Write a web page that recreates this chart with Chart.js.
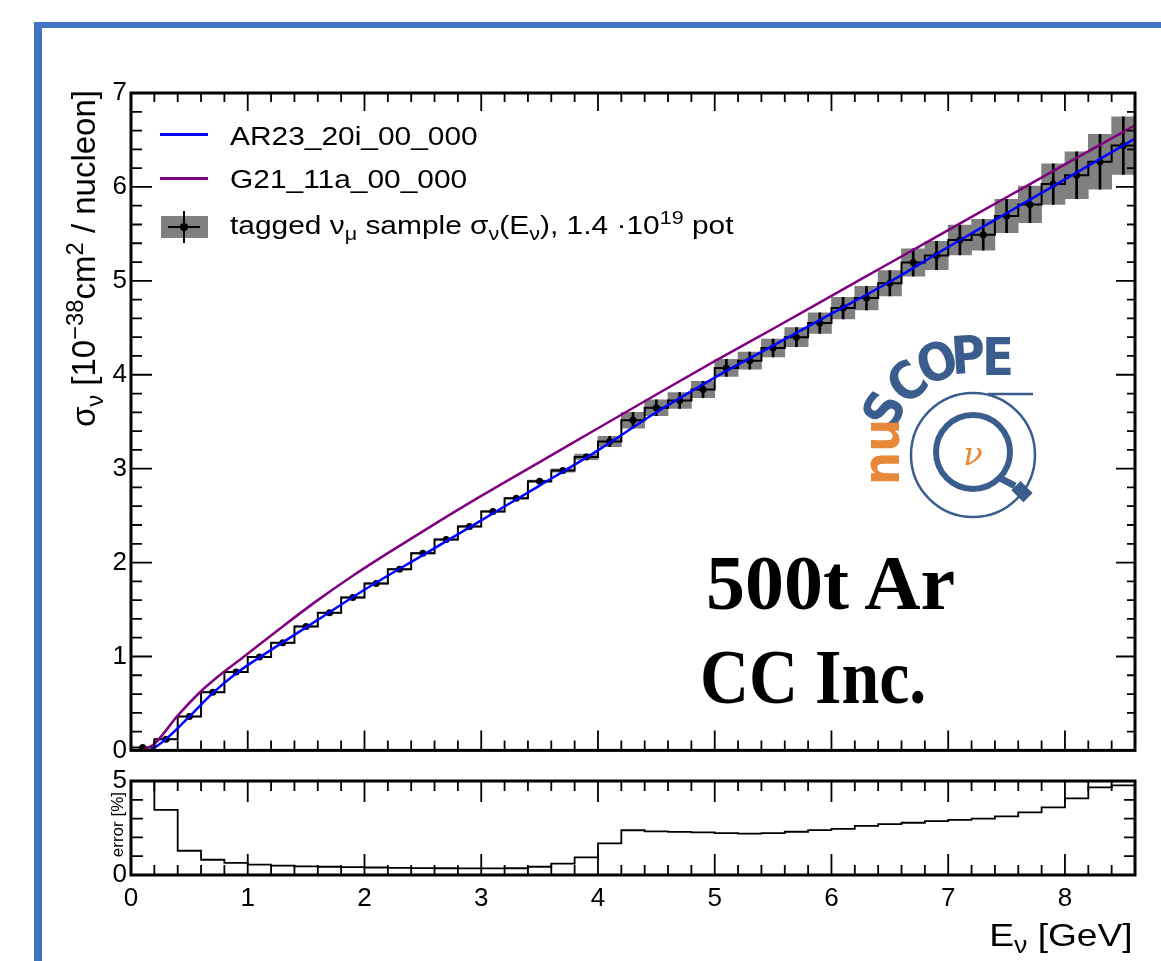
<!DOCTYPE html>
<html lang="en">
<head>
<meta charset="UTF-8">
<title>nuSCOPE 500t Ar CC Inc. cross section</title>
<script src="https://cdn.jsdelivr.net/npm/chart.js"></script>
<style>
  body { margin:0; background:#fff; width:1161px; height:961px; overflow:hidden; position:relative;
         font-family:'Liberation Sans', Arial, sans-serif; }
  .frame { position:absolute; left:34px; top:22px; width:1200px; height:1000px;
           border-left:8px solid #4472c4; border-top:6px solid #4472c4; }
  canvas { position:absolute; left:0; }
  .txt { position:absolute; white-space:nowrap; line-height:1; color:#000; }
  .rot { transform-origin:0 0; transform:rotate(-90deg); text-align:right; }
  .wide { transform-origin:0 0; transform:scaleX(1.15); }
  sub, sup { font-size:72%; line-height:0; }
  .swatch { position:absolute; }
  .big { font-family:'Liberation Serif', 'Times New Roman', serif; font-weight:bold; font-size:78px; transform-origin:0 0; }
</style>
</head>
<body>
<div class="frame"></div>
<canvas id="main" width="1161" height="770" style="top:0"></canvas>
<canvas id="ratio" width="1161" height="201" style="top:760px"></canvas>

<!-- axis titles -->
<div class="txt rot" style="left:67px; top:428px; width:338px; font-size:33px;">σ<sub>ν</sub> [10<sup>−38</sup>cm<sup>2</sup> / nucleon]</div>
<div class="txt rot" style="left:109px; top:862px; width:70px; font-size:17px;">error [%]</div>
<div class="txt" style="right:28px; top:919px; font-size:32px; transform-origin:100% 0; transform:scaleX(1.16);">E<sub>ν</sub> [GeV]</div>

<!-- legend -->
<div class="swatch" style="left:160px; top:133px; width:48px; height:3px; background:#0000ff;"></div>
<div class="swatch" style="left:160px; top:177px; width:48px; height:3px; background:#800080;"></div>
<div class="swatch" style="left:161px; top:216px; width:47px; height:22px; background:#808080;"></div>
<div class="swatch" style="left:168px; top:226px; width:32px; height:2px; background:#000;"></div>
<div class="swatch" style="left:183px; top:211px; width:2px; height:32px; background:#000;"></div>
<div class="swatch" style="left:180px; top:223px; width:8px; height:8px; border-radius:50%; background:#000;"></div>
<div class="txt wide" style="left:230px; top:123px; font-size:26px;">AR23_20i_00_000</div>
<div class="txt wide" style="left:230px; top:166px; font-size:26px;">G21_11a_00_000</div>
<div class="txt wide" style="left:230px; top:212px; font-size:26px;">tagged ν<sub>μ</sub> sample σ<sub>ν</sub>(E<sub>ν</sub>), 1.4 ·10<sup>19</sup> pot</div>

<!-- labels -->
<div class="txt big" style="left:706px; top:544px;">500t Ar</div>
<div class="txt big" style="left:700px; top:638px; transform:scaleX(0.87);">CC Inc.</div>

<svg style="position:absolute; left:840px; top:320px;" width="220" height="210" viewBox="0 0 220 210">
  <g font-family="'DejaVu Sans Condensed', 'DejaVu Sans', sans-serif" font-weight="bold" font-size="52" text-anchor="middle" dominant-baseline="central">
    <text x="44" y="90" fill="#3a5d8e" transform="rotate(-62 44 90)">S</text>
    <text x="67" y="62" fill="#3a5d8e" transform="rotate(-40 67 62)">C</text>
    <text x="97" y="42" fill="#3a5d8e" transform="rotate(-20 97 42)">O</text>
    <text x="128" y="35" fill="#3a5d8e" transform="rotate(-4 128 35)">P</text>
    <text x="158" y="37" fill="#3a5d8e">E</text>
    <text x="41" y="132" fill="#e8893a" transform="rotate(-90 41 132)">nu</text>
  </g>
  <circle cx="133" cy="135" r="62" fill="none" stroke="#3a5d8e" stroke-width="2.5"/>
  <line x1="148" y1="74" x2="193" y2="74" stroke="#3a5d8e" stroke-width="2.5"/>
  <circle cx="133" cy="132" r="37" fill="none" stroke="#3a5d8e" stroke-width="6"/>
  <line x1="158" y1="157" x2="175" y2="166" stroke="#3a5d8e" stroke-width="7"/>
  <rect x="174" y="165" width="17" height="13" fill="#3a5d8e" transform="rotate(45 182 171)"/>
  <text x="133" y="134" fill="#e8893a" font-family="'DejaVu Serif', serif" font-style="italic" font-size="32" text-anchor="middle" dominant-baseline="central">ν</text>
</svg>

<script>
  // bins of 0.2 GeV
  var binLow = [0, 0.2, 0.4, 0.6, 0.8, 1.0, 1.2, 1.4, 1.6, 1.8, 2.0, 2.2, 2.4, 2.6, 2.8,
                3.0, 3.2, 3.4, 3.6, 3.8, 4.0, 4.2, 4.4, 4.6, 4.8, 5.0, 5.2, 5.4, 5.6, 5.8,
                6.0, 6.2, 6.4, 6.6, 6.8, 7.0, 7.2, 7.4, 7.6, 7.8, 8.0, 8.2, 8.4];
  var binWidth = 0.2;

  // tagged numu sample sigma (1e-38 cm2/nucleon)
  var sigma = [0.03, 0.12, 0.36, 0.62, 0.835, 0.995, 1.146, 1.32, 1.465, 1.628, 1.776, 1.93, 2.10, 2.245, 2.385,
               2.545, 2.686, 2.865, 2.98, 3.125, 3.29, 3.515, 3.648, 3.726, 3.843, 4.073, 4.15, 4.285, 4.40, 4.55,
               4.71, 4.816, 4.975, 5.195, 5.27, 5.435, 5.49, 5.69, 5.814, 6.03, 6.125, 6.267, 6.44];

  // relative error in %
  var errPct = [5.3, 3.46, 1.29, 0.81, 0.65, 0.55, 0.50, 0.46, 0.44, 0.42, 0.40, 0.38, 0.37, 0.36, 0.35,
                0.35, 0.36, 0.44, 0.60, 0.94, 1.68, 2.38, 2.32, 2.29, 2.27, 2.23, 2.20, 2.23, 2.30, 2.39,
                2.45, 2.61, 2.71, 2.78, 2.87, 2.93, 3.00, 3.12, 3.33, 3.60, 4.08, 4.66, 4.77];

  // generator curves
  var ar23E     = [0.17, 0.3, 0.5, 0.7, 0.9, 1.2, 1.6, 2.0, 2.5, 3.0, 3.5, 4.0, 4.5, 5.0, 5.5, 6.0, 6.5, 7.0, 7.5, 8.0, 8.6];
  var ar23Sigma = [0.0, 0.12, 0.36, 0.61, 0.82, 1.07, 1.39, 1.71, 2.08, 2.45, 2.82, 3.195, 3.60, 3.97, 4.31, 4.65, 4.99, 5.36, 5.72, 6.08, 6.515];
  var g21E      = [0.1, 0.2, 0.4, 0.6, 0.8, 1.0, 1.3, 1.6, 1.9, 2.2, 2.6, 3.0, 3.5, 4.0, 4.5, 5.0, 5.5, 6.0, 6.5, 7.0, 7.5, 8.0, 8.6];
  var g21Sigma  = [0.0, 0.07, 0.37, 0.63, 0.84, 1.03, 1.32, 1.60, 1.86, 2.10, 2.41, 2.71, 3.07, 3.43, 3.79, 4.145, 4.49, 4.84, 5.19, 5.54, 5.89, 6.24, 6.656];

  var font = { family: "'Liberation Sans', Arial, sans-serif", size: 26 };

  // ROOT style frame: thick box with ticks pointing inwards on all sides
  function rootAxes(c) {
    return {
      id: 'rootAxes',
      afterDatasetsDraw: function (chart) {
        var ctx = chart.ctx, a = chart.chartArea, x = chart.scales.x, y = chart.scales.y;
        ctx.save();
        ctx.strokeStyle = '#000';
        ctx.lineWidth = 1.8;
        ctx.beginPath();
        var n = Math.round(x.max / c.xMinor);
        for (var k = 1; k < n; k++) {
          var v = k * c.xMinor, major = Math.abs(v - Math.round(v)) < 1e-6;
          var px = x.getPixelForValue(v);
          ctx.moveTo(px, a.bottom); ctx.lineTo(px, a.bottom - (major ? c.xMajB : c.xMinB));
          ctx.moveTo(px, a.top); ctx.lineTo(px, a.top + (major ? c.xMajT : c.xMinT));
        }
        n = Math.round(y.max / c.yMinor);
        for (k = 1; k < n; k++) {
          v = k * c.yMinor;
          major = Math.abs(v / c.yMajor - Math.round(v / c.yMajor)) < 1e-6;
          var py = y.getPixelForValue(v);
          ctx.moveTo(a.left, py); ctx.lineTo(a.left + (major ? c.yMajL : c.yMinL), py);
          ctx.moveTo(a.right, py); ctx.lineTo(a.right - (major ? c.yMajR : c.yMinR), py);
        }
        ctx.stroke();
        ctx.lineWidth = 3;
        ctx.strokeRect(a.left, a.top, a.right - a.left, a.bottom - a.top);
        ctx.restore();
      }
    };
  }

  var centers = binLow.map(function (b) { return b + binWidth / 2; });
  var histPts = binLow.map(function (b, i) { return { x: b, y: sigma[i] }; });
  histPts.push({ x: binLow[binLow.length - 1] + binWidth, y: sigma[sigma.length - 1] });
  var boxes = centers.map(function (c, i) {
    var e = sigma[i] * errPct[i] / 100;
    return { x: c, y: [sigma[i] - e, sigma[i] + e] };
  });

  new Chart(document.getElementById('main'), {
    type: 'bar',
    data: {
      datasets: [
        { type: 'bar', data: boxes, backgroundColor: '#808080', barPercentage: 1, categoryPercentage: 1, grouped: false, order: 5 },
        { type: 'line', data: histPts, stepped: 'before', borderColor: '#000', borderWidth: 2, pointRadius: 0, order: 4 },
        { type: 'bar', data: boxes, backgroundColor: '#000', barThickness: 2, grouped: false, order: 3 },
        { type: 'line', data: centers.map(function (c, i) { return { x: c, y: sigma[i] }; }), showLine: false,
          pointRadius: 3.5, pointBackgroundColor: '#000', pointBorderWidth: 0, order: 2 },
        { type: 'line', data: ar23E.map(function (e, i) { return { x: e, y: ar23Sigma[i] }; }), borderColor: '#0000ff',
          borderWidth: 2.5, pointRadius: 0, cubicInterpolationMode: 'monotone', order: 1 },
        { type: 'line', data: g21E.map(function (e, i) { return { x: e, y: g21Sigma[i] }; }), borderColor: '#800080',
          borderWidth: 2.5, pointRadius: 0, cubicInterpolationMode: 'monotone', order: 0 }
      ]
    },
    options: {
      responsive: false, animation: false, events: [],
      layout: { padding: { left: 71, right: 26, top: 93, bottom: 18 } },
      plugins: { legend: { display: false }, tooltip: { enabled: false } },
      scales: {
        x: { type: 'linear', min: 0, max: 8.6, offset: false, display: false },
        y: { type: 'linear', min: 0, max: 7, grid: { display: false, drawTicks: false }, border: { display: false },
             ticks: { stepSize: 1, font: font, color: '#000', padding: 4 },
             afterFit: function (s) { s.width = 60; } }
      }
    },
    plugins: [rootAxes({ xMinor: 0.2, xMajB: 20, xMinB: 10, xMajT: 18, xMinT: 9,
                         yMinor: 0.2, yMajor: 1, yMajL: 21, yMinL: 11, yMajR: 19, yMinR: 8 })]
  });

  var errPts = binLow.map(function (b, i) { return { x: b, y: errPct[i] }; });
  errPts.push({ x: binLow[binLow.length - 1] + binWidth, y: errPct[errPct.length - 1] });

  new Chart(document.getElementById('ratio'), {
    type: 'line',
    data: {
      datasets: [
        { data: errPts, stepped: 'before', borderColor: '#000', borderWidth: 1.8, pointRadius: 0 }
      ]
    },
    options: {
      responsive: false, animation: false, events: [],
      layout: { padding: { left: 71, right: 26, top: 21, bottom: 36 } },
      plugins: { legend: { display: false }, tooltip: { enabled: false } },
      scales: {
        x: { type: 'linear', min: 0, max: 8.6, offset: false, grid: { display: false, drawTicks: false }, border: { display: false },
             ticks: { stepSize: 1, includeBounds: false, autoSkip: false, maxRotation: 0, font: font, color: '#000', padding: 8 },
             afterFit: function (s) { s.height = 50; } },
        y: { type: 'linear', min: 0, max: 5, grid: { display: false, drawTicks: false }, border: { display: false },
             ticks: { stepSize: 5, font: font, color: '#000', padding: 4 },
             afterFit: function (s) { s.width = 60; } }
      }
    },
    plugins: [rootAxes({ xMinor: 0.2, xMajB: 21, xMinB: 10, xMajT: 21, xMinT: 10,
                         yMinor: 1, yMajor: 5, yMajL: 21, yMinL: 12, yMajR: 21, yMinR: 11 })]
  });
</script>
</body>
</html>
